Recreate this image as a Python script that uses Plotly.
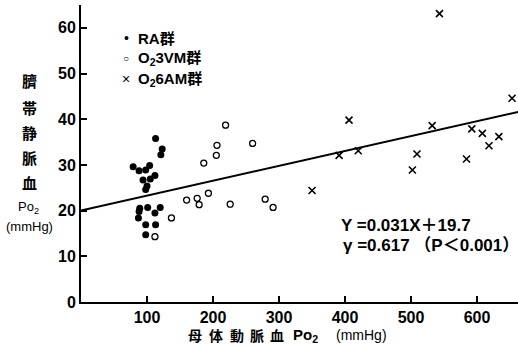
import plotly.graph_objects as go

# ---- data ----
ra_x = [79, 88, 98, 104, 112, 105, 94, 100, 98, 113, 123, 121, 89, 88, 87, 101, 120, 112, 98, 113, 98]
ra_y = [29.6, 28.7, 28.9, 29.9, 27.7, 26.9, 26.7, 25.4, 24.6, 35.8, 33.5, 32.2, 20.5, 19.8, 18.4, 20.7, 20.7, 19.5, 16.9, 16.9, 14.7]

vm3_x = [219, 206, 205, 186, 260, 160, 176, 179, 193, 226, 279, 291, 137, 112]
vm3_y = [38.7, 34.3, 32.1, 30.4, 34.7, 22.3, 22.7, 21.3, 23.8, 21.4, 22.5, 20.7, 18.4, 14.3]

am6_x = [543, 653, 406, 532, 592, 608, 633, 618, 391, 420, 509, 584, 350, 502]
am6_y = [63.1, 44.6, 39.8, 38.6, 37.9, 36.9, 36.2, 34.2, 32.1, 33.1, 32.4, 31.3, 24.4, 28.9]

reg_x = [0, 662]
reg_y = [20.0, 41.6]

x_ticks = [100, 200, 300, 400, 500, 600]
y_ticks = [0, 10, 20, 30, 40, 50, 60]

legend_symbols = ["•", "○", "×"]
legend_labels = ["RA群", "O<sub>2</sub>3VM群", "O<sub>2</sub>6AM群"]

W, H = 518, 347
ML, MR, MT, MB = 81, 0, 5, 45
FONT = "Liberation Sans, Noto Sans CJK JP, sans-serif"
CJK = "Noto Sans CJK JP, sans-serif"


def px(x, y):
    return (x - ML) / (W - ML - MR), (H - MB - y) / (H - MT - MB)


fig = go.Figure()
fig.add_trace(go.Scatter(x=reg_x, y=reg_y, mode="lines", line=dict(color="black", width=2),
                         showlegend=False, hoverinfo="skip"))
fig.add_trace(go.Scatter(x=ra_x, y=ra_y, mode="markers", name="RA群", showlegend=False,
                         marker=dict(symbol="circle", size=7, color="black")))
fig.add_trace(go.Scatter(x=vm3_x, y=vm3_y, mode="markers", name="O2 3VM群", showlegend=False,
                         marker=dict(symbol="circle-open", size=6, color="black", line=dict(width=1.3))))
fig.add_trace(go.Scatter(x=am6_x, y=am6_y, mode="markers", name="O2 6AM群", showlegend=False,
                         marker=dict(symbol="x-thin-open", size=7, color="black", line=dict(width=1.6))))

ann = []


def add(x, y, text, size, family=FONT, xanchor="center"):
    xp, yp = px(x, y)
    ann.append(dict(x=xp, y=yp, xref="paper", yref="paper", text=text, showarrow=False,
                    font=dict(family=family, size=size, color="black"),
                    xanchor=xanchor, yanchor="middle"))


# y-axis title (vertical)
for ch, yy in [("臍", 81), ("帯", 107), ("静", 132), ("脈", 157), ("血", 182)]:
    add(29, yy, "<b>" + ch + "</b>", 15, CJK)
add(28, 207, "Po<sub>2</sub>", 13)
add(29, 226, "(mmHg)", 13)

# x-axis title (spaced characters)
for ch, xx in [("母", 195), ("体", 215.5), ("動", 236.5), ("脈", 256.5), ("血", 276.5)]:
    add(xx, 335, "<b>" + ch + "</b>", 14, CJK)
add(305, 335, "<b>Po<sub>2</sub></b>", 15)
add(361, 335, "(mmHg)", 14)

# regression text
add(339, 225, "<b>Y =0.031X＋19.7</b>", 17, xanchor="left")
add(341, 245, "<b>γ =0.617 （P＜0.001）</b>", 17, xanchor="left")

# legend
for i, (s, lab) in enumerate(zip(legend_symbols, legend_labels)):
    yy = [38, 59, 79][i]
    add(126, yy, s, 14 if i != 1 else 10)
    add(136, yy, "<b>" + lab + "</b>", 15, xanchor="left")

fig.update_layout(
    width=W, height=H,
    margin=dict(l=ML, r=MR, t=MT, b=MB),
    paper_bgcolor="white", plot_bgcolor="white",
    font=dict(family=FONT, size=16, color="black"),
    showlegend=False,
    annotations=ann,
)
fig.update_xaxes(range=[0, 662], tickvals=x_ticks, ticks="inside", ticklen=6, tickwidth=1.5,
                 tickcolor="black", showline=True, linecolor="black", linewidth=2,
                 showgrid=False, zeroline=False,
                 tickfont=dict(size=16, weight="bold"))
fig.update_yaxes(range=[0, 65], tickvals=y_ticks, ticks="inside", ticklen=6, tickwidth=1.5,
                 tickcolor="black", showline=True, linecolor="black", linewidth=2,
                 showgrid=False, zeroline=False,
                 tickfont=dict(size=16, weight="bold"))

fig.write_html("out.html", config={"displayModeBar": False},
               post_script="document.body.style.margin='0';document.body.style.overflow='hidden';")
